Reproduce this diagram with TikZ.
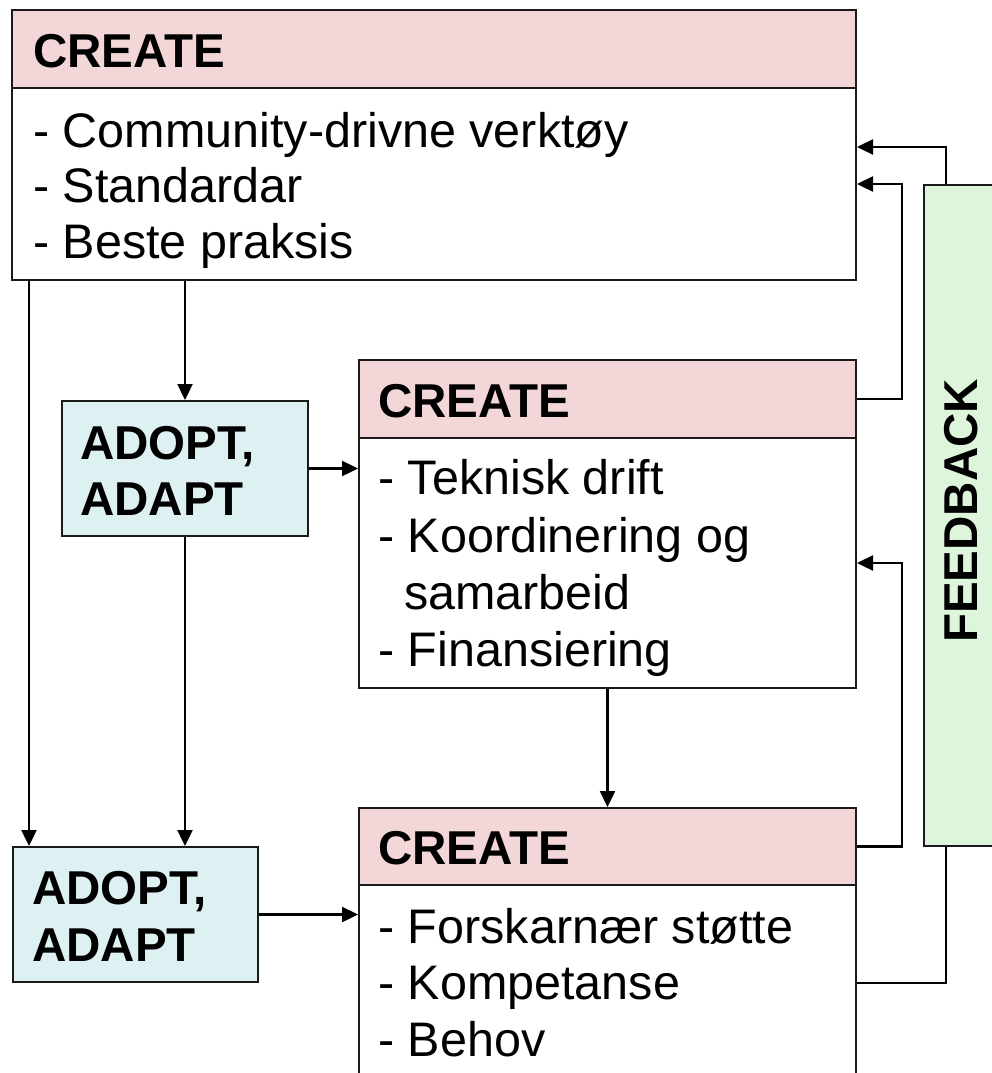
\documentclass[tikz,border=0pt]{standalone}
\usepackage{fontspec}
\setmainfont{Liberation Sans}
\usetikzlibrary{arrows.meta}
\definecolor{hdrpink}{HTML}{F2D6D8}
\definecolor{adcyan}{HTML}{DDF0F2}
\definecolor{fbgreen}{HTML}{DDF5DA}
\definecolor{edge}{HTML}{1A1A1A}
\tikzset{
  box/.style={draw=edge, line width=2pt, inner sep=0pt, anchor=north west},
  txt/.style={anchor=base west, inner sep=0pt, font=\fontsize{48.5}{56}\selectfont},
  btxt/.style={anchor=base west, inner sep=0pt, font=\fontsize{47.5}{56}\selectfont\bfseries},
  arr/.style={line width=2.4pt, -{Triangle[length=16pt,width=15pt]}},
}
\begin{document}
\begin{tikzpicture}[x=1pt,y=-1pt]
\useasboundingbox (0,0) rectangle (992,1073);
\clip (0,0) rectangle (992,1073);
\fill[white] (0,0) rectangle (992,1073);

% boxes
\node[box, fill=hdrpink, minimum width=844pt, minimum height=78pt] (topH) at (11,9) {};
\node[box, fill=white, minimum width=844pt, minimum height=192pt] (topB) at (11,87) {};
\node[box, fill=hdrpink, minimum width=497pt, minimum height=78pt] (midH) at (358,359) {};
\node[box, fill=white, minimum width=497pt, minimum height=250pt] (midB) at (358,437) {};
\node[box, fill=hdrpink, minimum width=497pt, minimum height=77pt] (botH) at (358,807) {};
\node[box, fill=white, minimum width=497pt, minimum height=200pt] (botB) at (358,884) {};
\node[box, fill=adcyan, minimum width=246pt, minimum height=135pt] (ad1) at (61,400) {};
\node[box, fill=adcyan, minimum width=245pt, minimum height=135pt] (ad2) at (12,846) {};

% texts
\node[btxt] (t1) at (33,67) {CREATE};
\node[txt] (t1a) at (33,147) {- Community-drivne verktøy};
\node[txt] (t1b) at (33,202) {- Standardar};
\node[txt] (t1c) at (33,258) {- Beste praksis};

\node[btxt] (t2) at (378,417) {CREATE};
\node[txt] (t2a) at (378,494) {- Teknisk drift};
\node[txt] (t2b) at (378,552) {- Koordinering og};
\node[txt] (t2c) at (404,609) {samarbeid};
\node[txt] (t2d) at (378,666) {- Finansiering};

\node[btxt] (t3) at (378,864) {CREATE};
\node[txt] (t3a) at (378,943) {- Forskarnær støtte};
\node[txt] (t3b) at (378,999) {- Kompetanse};
\node[txt] (t3c) at (378,1056) {- Behov};

\node[btxt] (a1a) at (80,459) {ADOPT,};
\node[btxt] (a1b) at (80,515) {ADAPT};
\node[btxt] (a2a) at (32,904) {ADOPT,};
\node[btxt] (a2b) at (32,961) {ADAPT};

% connectors
\coordinate (r1) at (902,0);
\coordinate (r2) at (946,0);
\draw[arr] ([xshift=18pt]topB.south west) -- ([xshift=17pt]ad2.north west);
\draw[arr] (topB.south -| ad1.north) -- (ad1.north);
\draw[arr] (ad1.south) -- (ad1.south |- ad2.north);
\draw[arr] (ad1.east) -- (ad1.east -| midB.west);
\draw[arr] (ad2.east) -- (ad2.east -| botB.west);
\draw[arr] (midB.south) -- (midB.south |- botH.north);
\draw[arr] (midH.east) -| (r1 |- topB.east) -- (topB.east);
\draw[arr] (botH.east) -| (r1 |- midB.east) -- (midB.east);
\draw[arr] (botB.east |- ad2.south) -| (r2 |- 0,147) -- (topB.east |- 0,147);

% feedback
\node[box, fill=fbgreen, minimum width=80pt, minimum height=661pt] (fb) at (923,184) {};
\node[inner sep=0pt, rotate=90, font=\fontsize{47.5}{56}\selectfont\bfseries] (fbt) at (961,511) {FEEDBACK};
\end{tikzpicture}
\end{document}
